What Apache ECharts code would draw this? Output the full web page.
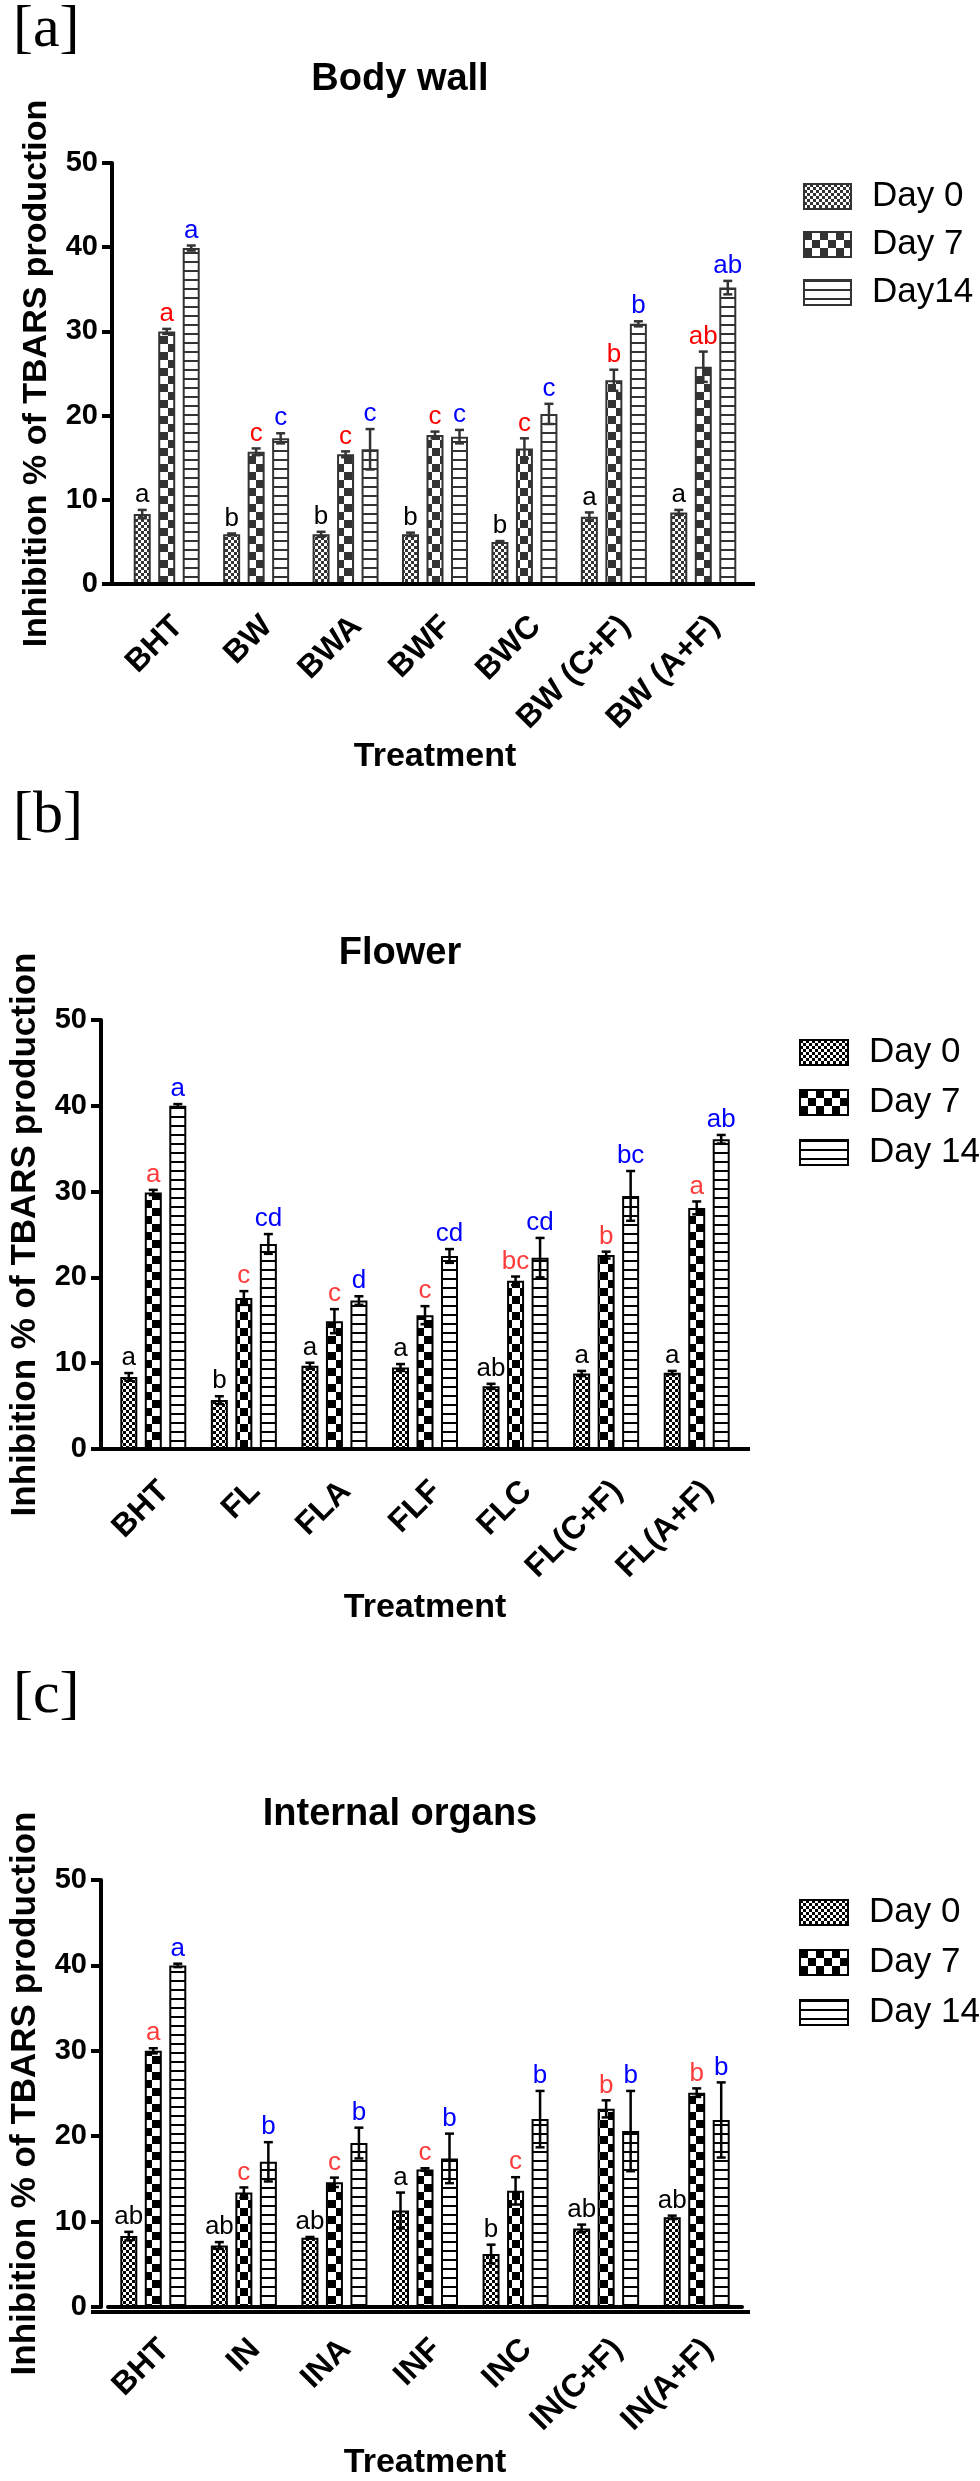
<!DOCTYPE html>
<html>
<head>
<meta charset="utf-8">
<script src="https://cdn.jsdelivr.net/npm/echarts@6/dist/echarts.min.js"></script>
<style>
  html, body { margin: 0; padding: 0; background: #fff; }
  #chart { width: 980px; height: 2481px; }
</style>
</head>
<body>
<div id="chart"></div>
<script>
// ---- data ----
const catsA = ['BHT', 'BW', 'BWA', 'BWF', 'BWC', 'BW (C+F)', 'BW (A+F)'];
const catsB = ['BHT', 'FL', 'FLA', 'FLF', 'FLC', 'FL(C+F)', 'FL(A+F)'];
const catsC = ['BHT', 'IN', 'INA', 'INF', 'INC', 'IN(C+F)', 'IN(A+F)'];
const dayNamesA = ['Day 0', 'Day 7', 'Day14'];
const dayNamesBC = ['Day 0', 'Day 7', 'Day 14'];
const yTicks = [0, 10, 20, 30, 40, 50];

// body wall
const bwDay0 = [8.3, 5.9, 5.9, 5.9, 5.0, 8.0, 8.5];
const bwDay0Err = [0.5, 0.1, 0.3, 0.2, 0.1, 0.5, 0.3];
const bwDay7 = [30.0, 15.7, 15.4, 17.7, 16.1, 24.2, 25.8];
const bwDay7Err = [0.3, 0.4, 0.35, 0.4, 1.2, 1.25, 1.8];
const bwDay14 = [39.9, 17.3, 16.0, 17.5, 20.2, 30.9, 35.2];
const bwDay14Err = [0.3, 0.6, 2.4, 0.8, 1.2, 0.3, 0.8];
const bwLet0 = ['a', 'b', 'b', 'b', 'b', 'a', 'a'];
const bwLet7 = ['a', 'c', 'c', 'c', 'c', 'b', 'ab'];
const bwLet14 = ['a', 'c', 'c', 'c', 'c', 'b', 'ab'];

// flower
const flDay0 = [8.4, 5.7, 9.7, 9.5, 7.3, 8.8, 8.9];
const flDay0Err = [0.45, 0.45, 0.35, 0.4, 0.3, 0.3, 0.2];
const flDay7 = [29.9, 17.6, 14.9, 15.6, 19.6, 22.6, 28.1];
const flDay7Err = [0.3, 0.8, 1.4, 1.05, 0.5, 0.4, 0.75];
const flDay14 = [40.0, 23.9, 17.3, 22.5, 22.3, 29.5, 36.1];
const flDay14Err = [0.2, 1.15, 0.5, 0.8, 2.3, 2.9, 0.5];
const flLet0 = ['a', 'b', 'a', 'a', 'ab', 'a', 'a'];
const flLet7 = ['a', 'c', 'c', 'c', 'bc', 'b', 'a'];
const flLet14 = ['a', 'cd', 'd', 'cd', 'cd', 'bc', 'ab'];

// internal organs
const inDay0 = [8.3, 7.2, 8.1, 11.3, 6.2, 9.2, 10.5];
const inDay0Err = [0.5, 0.4, 0.1, 2.1, 1.1, 0.45, 0.2];
const inDay7 = [30.0, 13.4, 14.6, 16.1, 13.6, 23.2, 25.1];
const inDay7Err = [0.3, 0.6, 0.55, 0.15, 1.6, 1.0, 0.5];
const inDay14 = [40.0, 17.0, 19.2, 17.4, 22.0, 20.6, 21.9];
const inDay14Err = [0.2, 2.3, 1.8, 2.9, 3.3, 4.7, 4.4];
const inLet0 = ['ab', 'ab', 'ab', 'a', 'b', 'ab', 'ab'];
const inLet7 = ['a', 'c', 'c', 'c', 'c', 'b', 'b'];
const inLet14 = ['a', 'b', 'b', 'b', 'b', 'b', 'b'];

// ---- panels (data refs + layout) ----
const panels = [
  { tag: '[a]', title: 'Body wall', cats: catsA, days: dayNamesA,
    vals: [bwDay0, bwDay7, bwDay14], errs: [bwDay0Err, bwDay7Err, bwDay14Err], lets: [bwLet0, bwLet7, bwLet14],
    ink: '#333', red: '#ff0000',
    axisX: 112, left: 122, top: 163, width: 626, height: 421, axisEnd: 755,
    tagY: 0, titleY: 80, legendX: 798, legendY: 174, legendGap: 13, iconW: 47,
    nameGapX: 156, nameGapY: 58, yLabelSize: 34 },
  { tag: '[b]', title: 'Flower', cats: catsB, days: dayNamesBC,
    vals: [flDay0, flDay7, flDay14], errs: [flDay0Err, flDay7Err, flDay14Err], lets: [flLet0, flLet7, flLet14],
    ink: '#000', red: '#ff3c3c',
    axisX: 93, left: 100, top: 1020, width: 642, height: 429, axisEnd: 750,
    tagY: 786, titleY: 954, legendX: 794, legendY: 1030, legendGap: 15, iconW: 48,
    nameGapX: 142, nameGapY: 58, yLabelSize: 35 },
  { tag: '[c]', title: 'Internal organs', cats: catsC, days: dayNamesBC,
    vals: [inDay0, inDay7, inDay14], errs: [inDay0Err, inDay7Err, inDay14Err], lets: [inLet0, inLet7, inLet14],
    ink: '#000', red: '#ff3c3c',
    axisX: 93, left: 100, top: 1880, width: 642, height: 432, axisEnd: 750,
    tagY: 1666, titleY: 1815, legendX: 794, legendY: 1890, legendGap: 15, iconW: 48,
    nameGapX: 139, nameGapY: 58, yLabelSize: 35 }
];

const FONT = '"Liberation Sans", Arial, sans-serif';
const BAR_W = 17;
const BAR_GAP_PX = 7.5;

function checker(cell, dark) {
  const c = document.createElement('canvas');
  c.width = c.height = cell * 2;
  const g = c.getContext('2d');
  g.fillStyle = '#fff'; g.fillRect(0, 0, cell * 2, cell * 2);
  g.fillStyle = dark; g.fillRect(0, 0, cell, cell); g.fillRect(cell, cell, cell, cell);
  return c;
}
function stripes(step, w, dark) {
  const c = document.createElement('canvas');
  c.width = 8; c.height = step;
  const g = c.getContext('2d');
  g.fillStyle = '#fff'; g.fillRect(0, 0, 8, step);
  g.fillStyle = dark; g.fillRect(0, 0, 8, w);
  return c;
}

const chart = echarts.init(document.getElementById('chart'));
const grid = [], xAxis = [], yAxis = [], series = [], legend = [], graphic = [];

panels.forEach((p, gi) => {
  const fills = [
    { image: checker(3, p.ink), repeat: 'repeat' },
    { image: checker(8, p.ink), repeat: 'repeat' },
    { image: stripes(9, 2, p.ink), repeat: 'repeat' }
  ];
  const letterColors = ['#000', p.red, '#0000ff'];

  grid.push({ left: p.left, top: p.top, width: p.width, height: p.height });
  xAxis.push({
    type: 'category', gridIndex: gi, data: p.cats,
    name: 'Treatment', nameLocation: 'middle', nameGap: p.nameGapX,
    nameTextStyle: { fontFamily: FONT, fontSize: 34, fontWeight: 'bold', color: '#000' },
    axisLine: { lineStyle: { color: '#000', width: 4 } },
    axisTick: { alignWithLabel: true, length: 11, lineStyle: { color: '#000', width: 4 } },
    axisLabel: { interval: 0, rotate: 45, margin: 26, align: 'right', verticalAlign: 'top',
      fontFamily: FONT, fontSize: 32, fontWeight: 'bold', color: '#000' },
    splitLine: { show: false }
  });
  yAxis.push({
    type: 'value', gridIndex: gi, min: yTicks[0], max: yTicks[yTicks.length - 1], interval: 10,
    offset: p.left - p.axisX,
    name: 'Inhibition % of TBARS production', nameLocation: 'middle', nameGap: p.nameGapY,
    nameTextStyle: { fontFamily: FONT, fontSize: p.yLabelSize, fontWeight: 'bold', color: '#000' },
    axisLine: { show: true, lineStyle: { color: '#000', width: 4 } },
    axisTick: { show: true, length: 10, lineStyle: { color: '#000', width: 4 } },
    axisLabel: { margin: 14, fontFamily: FONT, fontSize: 29, fontWeight: 'bold', color: '#000' },
    splitLine: { show: false }
  });

  const names = p.days.map(d => p.tag + '|' + d);
  names.forEach((nm, k) => {
    series.push({
      type: 'bar', name: nm, xAxisIndex: gi, yAxisIndex: gi,
      data: p.vals[k], barWidth: BAR_W, barGap: (BAR_GAP_PX / BAR_W * 100) + '%',
      itemStyle: { color: fills[k], borderColor: p.ink, borderWidth: 2 },
      z: 2
    });
    const offset = (k - 1) * (BAR_W + BAR_GAP_PX);
    const errs = p.errs[k], lets = p.lets[k];
    series.push({
      type: 'custom', xAxisIndex: gi, yAxisIndex: gi, z: 5,
      data: p.vals[k].map((v, i) => [i, v, errs[i]]),
      renderItem: (params, api) => {
        const i = api.value(0), v = api.value(1), e = api.value(2);
        const hi = api.coord([i, v + e]);
        const lo = api.coord([i, v - e]);
        const x = hi[0] + offset;
        const st = { stroke: p.ink, lineWidth: 2.5 };
        return {
          type: 'group', children: [
            { type: 'line', shape: { x1: x, y1: hi[1], x2: x, y2: lo[1] }, style: st },
            { type: 'line', shape: { x1: x - 4.5, y1: hi[1], x2: x + 4.5, y2: hi[1] }, style: st },
            { type: 'line', shape: { x1: x - 4.5, y1: lo[1], x2: x + 4.5, y2: lo[1] }, style: st },
            { type: 'text', x: x, y: hi[1] - 2,
              style: { text: lets[params.dataIndex], fill: letterColors[k], font: '26px ' + FONT,
                       textAlign: 'center', textVerticalAlign: 'bottom' } }
          ]
        };
      }
    });
  });

  legend.push({
    orient: 'vertical', left: p.legendX, top: p.legendY,
    itemWidth: p.iconW, itemHeight: 25, itemGap: p.legendGap,
    icon: 'rect', selectedMode: false,
    data: names,
    formatter: n => n.split('|')[1],
    textStyle: { fontFamily: FONT, fontSize: 35, lineHeight: 35, color: '#000', padding: [0, 0, 0, 16] }
  });

  graphic.push(
    { type: 'text', left: 13, top: p.tagY, style: { text: p.tag, font: '60px "Liberation Serif", serif', fill: '#000' } },
    { type: 'text', x: 400, y: p.titleY, style: { text: p.title, font: 'bold 38px ' + FONT, fill: '#000',
      textAlign: 'center', textVerticalAlign: 'middle' } },
    { type: 'line', shape: { x1: p.axisX - 2, y1: p.top + p.height, x2: p.axisEnd, y2: p.top + p.height },
      style: { stroke: '#000', lineWidth: 4 }, z: 10 }
  );
});

chart.setOption({
  animation: false,
  backgroundColor: '#fff',
  grid, xAxis, yAxis, series, legend, graphic
});
</script>
</body>
</html>
